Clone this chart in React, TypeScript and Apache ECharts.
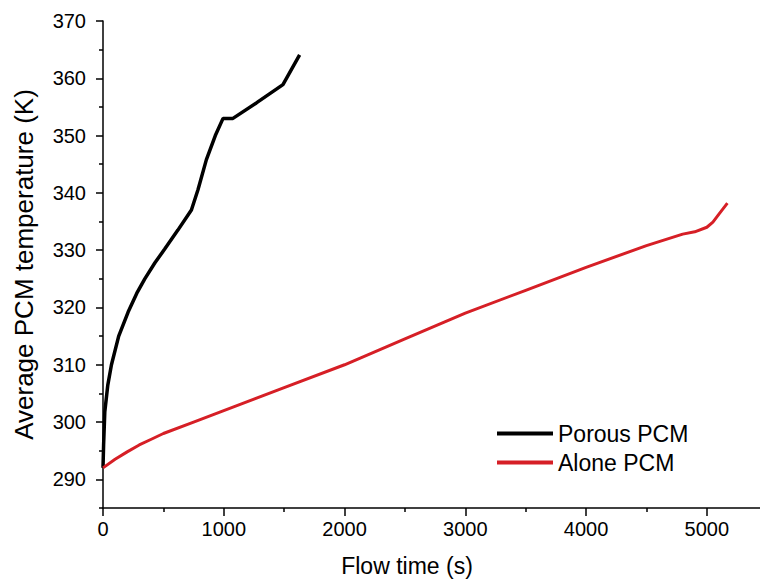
import React, { useEffect, useRef } from "react";
import * as echarts from "echarts";

const porousTime = [0, 5, 15, 40, 70, 130, 208, 280, 346, 430, 511, 620, 732, 787, 856, 930, 994, 1076, 1270, 1490, 1628];
const porousTemp = [292, 296, 301.8, 306.5, 310, 315, 319.2, 322.5, 325, 327.8, 330.2, 333.5, 337, 340.6, 345.8, 350, 353, 353, 355.7, 358.9, 364.1];

const aloneTime = [0, 100, 200, 300, 400, 500, 750, 1000, 1250, 1500, 2000, 2500, 3000, 3500, 4000, 4500, 4800, 4900, 5000, 5050, 5100, 5170];
const aloneTemp = [292, 293.5, 294.8, 296, 297, 298, 300, 302, 304, 306, 310, 314.5, 319, 323, 327, 330.8, 332.8, 333.2, 334, 334.9, 336.3, 338.2];

const xMajor = [0, 1000, 2000, 3000, 4000, 5000];
const xMinor = [500, 1500, 2500, 3500, 4500];
const yMajor = [290, 300, 310, 320, 330, 340, 350, 360, 370];
const yMinor = [285, 295, 305, 315, 325, 335, 345, 355, 365];

const FONT = "Liberation Sans, Arial, sans-serif";

export default function App() {
  const ref = useRef<HTMLDivElement>(null);
  useEffect(() => {
    if (!ref.current) return;
    const chart = echarts.init(ref.current, undefined, { renderer: "svg" });
    const axisLine = { show: true, lineStyle: { color: "#000", width: 1.5 } };
    chart.setOption({
      animation: false,
      backgroundColor: "#fff",
      grid: { left: 103, top: 21, right: 0, bottom: 72 },
      legend: {
        orient: "vertical",
        left: 492,
        top: 417,
        itemWidth: 56,
        itemHeight: 4,
        itemGap: 6,
        icon: "rect",
        textStyle: { fontFamily: FONT, fontSize: 23, color: "#000" },
        data: ["Porous PCM", "Alone PCM"],
      },
      xAxis: [
        {
          type: "value",
          min: 0,
          max: 5440,
          name: "Flow time (s)",
          nameLocation: "middle",
          nameGap: 46,
          nameTextStyle: { fontFamily: FONT, fontSize: 23, color: "#000", padding: [0, 49, 0, 0] },
          axisLine,
          axisTick: { show: true, inside: false, length: 8, customValues: xMajor, lineStyle: { color: "#000", width: 1.5 } },
          axisLabel: { customValues: xMajor, formatter: (v: number) => String(v), fontFamily: FONT, fontSize: 20, color: "#000", margin: 11 },
          splitLine: { show: false },
        },
        {
          type: "value",
          min: 0,
          max: 5440,
          position: "bottom",
          axisLine: { show: false },
          axisTick: { show: true, length: 4, customValues: xMinor, lineStyle: { color: "#000", width: 1.5 } },
          axisLabel: { show: false },
          splitLine: { show: false },
        },
      ],
      yAxis: [
        {
          type: "value",
          min: 285,
          max: 370,
          name: "Average PCM temperature (K)",
          nameLocation: "middle",
          nameGap: 66,
          nameTextStyle: { fontFamily: FONT, fontSize: 26, color: "#000" },
          axisLine,
          axisTick: { show: true, inside: false, length: 7, customValues: yMajor, lineStyle: { color: "#000", width: 1.5 } },
          axisLabel: { customValues: yMajor, formatter: (v: number) => String(v), fontFamily: FONT, fontSize: 20, color: "#000", margin: 17 },
          splitLine: { show: false },
        },
        {
          type: "value",
          min: 285,
          max: 370,
          position: "left",
          axisLine: { show: false },
          axisTick: { show: true, length: 4, customValues: yMinor, lineStyle: { color: "#000", width: 1.5 } },
          axisLabel: { show: false },
          splitLine: { show: false },
        },
      ],
      series: [
        {
          name: "Porous PCM",
          type: "line",
          symbol: "none",
          smooth: false,
          xAxisIndex: 0,
          yAxisIndex: 0,
          lineStyle: { color: "#000", width: 3.5 },
          itemStyle: { color: "#000" },
          data: porousTime.map((t, i) => [t, porousTemp[i]]),
        },
        {
          name: "Alone PCM",
          type: "line",
          symbol: "none",
          smooth: false,
          xAxisIndex: 0,
          yAxisIndex: 0,
          lineStyle: { color: "#d61f26", width: 3 },
          itemStyle: { color: "#d61f26" },
          data: aloneTime.map((t, i) => [t, aloneTemp[i]]),
        },
      ],
    });
    return () => chart.dispose();
  }, []);
  return (
    <div
      ref={ref}
      style={{ position: "absolute", left: 0, top: 0, width: 760, height: 582 }}
    />
  );
}
